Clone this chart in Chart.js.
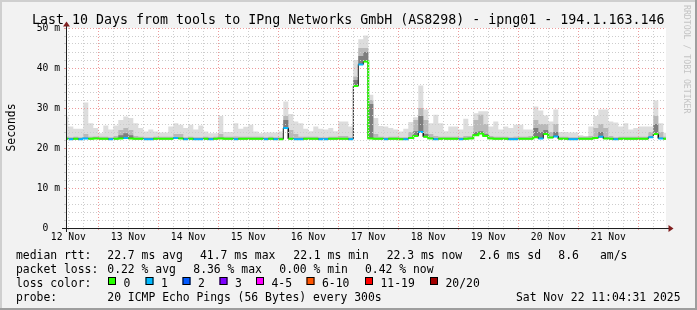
<!DOCTYPE html>
<html>
<head>
<meta charset="utf-8">
<title>SmokePing</title>
<script src="https://cdn.jsdelivr.net/npm/chart.js@4.4.1/dist/chart.umd.min.js"></script>
<style>
html,body{margin:0;padding:0;background:#f2f2f2;overflow:hidden;}
#c{display:block;}
</style>
</head>
<body>
<canvas id="c" width="697" height="310"></canvas>
<script>
// time axis in hours since 12 Nov 00:00
const START_H = 11 + 4/60 + 31/3600;   // 12 Nov 11:04:31
const SPAN_H = 240;                     // 10 days
const FIRST_H = 10;                     // start of first 2h interval
const STEP_H = 2;

// median rtt (ms) per 2h interval
const median = [
22.3,22.2,22.3,22.2,22.4,22.3,22.4,22.3,22.3,22.2,
22.3,22.4,22.5,22.4,22.3,22.3,22.2,22.2,22.3,22.3,
22.3,22.3,22.5,22.4,22.2,22.3,22.2,22.2,22.3,22.2,
22.3,22.4,22.3,22.3,22.2,22.3,22.3,22.3,22.3,22.3,
22.2,22.3,22.2,22.2,25.0,22.3,22.2,22.2,22.3,22.3,
22.3,22.2,22.2,22.3,22.3,22.3,22.3,22.2,35.5,40.9,
41.6,22.4,22.3,22.3,22.2,22.3,22.3,22.2,22.2,22.5,
23.0,24.0,22.8,22.4,22.2,22.3,22.3,22.3,22.3,22.2,
22.3,22.4,23.2,23.6,23.0,22.4,22.3,22.3,22.3,22.2,
22.2,22.3,22.3,22.3,22.7,22.4,23.5,22.6,22.9,22.3,
22.3,22.2,22.2,22.3,22.3,22.3,22.5,22.8,22.4,22.3,
22.2,22.3,22.3,22.3,22.3,22.3,22.3,22.7,23.5,22.4,
22.3];

// lost pings out of 20 per interval
const loss = [
0,1,0,1,1,0,0,0,0,1,
0,0,1,0,0,0,1,1,0,0,
0,0,1,0,1,0,1,1,0,1,
0,0,0,0,1,0,0,0,0,0,
1,0,1,0,1,0,1,1,0,0,
0,1,1,0,0,0,0,1,0,1,
0,0,0,0,1,0,0,0,1,0,
0,1,0,0,1,0,0,0,0,1,
0,0,0,0,0,0,0,0,0,1,
1,0,0,0,0,1,0,0,1,0,
0,1,1,0,0,0,0,1,0,0,
1,0,0,0,0,0,0,1,0,1,
0];

// smoke: top of the outer (light) band
const smokeLight = [
27.9,25.4,24.8,24.8,31.4,26.2,25.0,23.7,25.6,24.6,
25.6,27.0,27.9,27.5,26.2,25.0,24.1,24.6,24.1,23.9,
23.9,25.4,26.2,25.8,25.0,25.8,24.6,25.6,24.1,23.7,
23.7,28.0,24.0,24.0,26.2,24.8,25.3,25.8,24.1,23.7,
23.9,23.9,23.9,24.1,31.6,28.5,26.6,26.2,24.8,24.2,
25.4,24.8,24.6,25.0,24.2,26.6,26.6,25.4,42.0,47.2,
48.1,33.3,27.5,25.5,25.4,25.0,24.6,24.1,24.8,26.5,
27.7,35.6,29.6,26.2,28.3,26.2,24.2,25.4,25.4,24.6,
27.3,25.5,28.7,29.2,29.2,25.4,26.6,24.6,25.4,25.0,
25.8,25.8,24.6,24.6,30.4,29.4,28.1,26.6,29.6,24.0,
24.0,23.9,23.9,23.2,23.0,25.4,28.0,29.6,29.6,26.6,
26.4,25.4,26.2,24.6,25.0,25.4,25.4,25.4,31.9,26.2,
23.8];

// smoke: top of the middle band
const smokeMid = [
22.8,22.7,22.8,22.7,23.5,22.8,22.9,22.8,22.8,22.7,
23.0,24.5,25.0,24.5,23.0,22.8,22.7,22.7,22.8,22.8,
22.8,22.8,23.5,23.5,22.7,22.8,22.7,22.7,22.8,22.7,
22.8,23.5,22.8,22.8,22.9,22.8,22.8,22.8,22.8,22.8,
22.7,22.8,22.7,22.7,28.0,24.5,23.5,22.8,22.8,22.8,
22.8,22.7,22.7,22.8,22.8,23.0,23.0,22.7,37.9,45.0,
45.0,32.0,23.5,22.8,22.7,22.8,22.8,22.7,22.7,24.0,
27.0,30.0,27.0,23.5,23.0,22.8,22.8,22.8,22.8,22.7,
23.0,23.0,27.0,28.3,26.0,23.0,22.8,22.8,22.8,22.7,
22.8,22.8,22.8,23.0,27.0,26.0,26.0,24.0,26.0,22.8,
22.8,22.7,22.7,22.8,22.8,23.0,25.0,26.0,25.0,23.0,
22.7,22.8,22.8,22.8,22.8,22.8,22.8,24.0,28.0,24.0,
22.8];

// smoke: top of the dark inner band
const smokeDark = [
22.3,22.2,22.3,22.2,22.4,22.3,22.4,22.3,22.3,22.2,
22.3,23.2,23.7,23.2,22.3,22.3,22.2,22.2,22.3,22.3,
22.3,22.3,22.5,22.4,22.2,22.3,22.2,22.2,22.3,22.2,
22.3,22.4,22.3,22.3,22.2,22.3,22.3,22.3,22.3,22.3,
22.2,22.3,22.2,22.2,27.0,22.3,22.2,22.2,22.3,22.3,
22.3,22.2,22.2,22.3,22.3,22.3,22.3,22.2,37.0,43.0,
44.0,31.0,22.3,22.3,22.2,22.3,22.3,22.2,22.2,22.5,
24.2,28.0,23.5,22.4,22.2,22.3,22.3,22.3,22.3,22.2,
22.3,22.4,24.0,24.2,23.5,22.4,22.3,22.3,22.3,22.2,
22.2,22.3,22.3,22.3,25.0,24.0,24.5,22.6,24.0,22.3,
22.3,22.2,22.2,22.3,22.3,22.3,22.5,24.0,22.4,22.3,
22.2,22.3,22.3,22.3,22.3,22.3,22.3,22.7,26.0,22.4,
22.3];

const dayLabels = ['12 Nov','13 Nov','14 Nov','15 Nov','16 Nov','17 Nov','18 Nov','19 Nov','20 Nov','21 Nov'];
const yMajor = [0,10,20,30,40,50];
const yLabels = ['0  ','10 m','20 m','30 m','40 m','50 m'];

const lossBuckets = [[0,0],[1,1],[2,2],[3,3],[4,5],[6,10],[11,19],[20,20]];
const lossLabels = ['0','1','2','3','4-5','6-10','11-19','20/20'];
const lossColors = ['#26ff00','#00b8ff','#0059ff','#7e00ff','#ff00ff','#ff5500','#ff0000','#a10000'];

const titleText = 'Last 10 Days from tools to IPng Networks GmbH (AS8298) - ipng01 - 194.1.163.146';
const rttStats = ['22.7 ms avg','41.7 ms max','22.1 ms min','22.3 ms now','2.6 ms sd','8.6','am/s'];
const lossStats = ['0.22 % avg','8.36 % max','0.00 % min','0.42 % now'];
const probeText = '20 ICMP Echo Pings (56 Bytes) every 300s';
const stampText = 'Sat Nov 22 11:04:31 2025';

// ---------- build series ----------
const END_H = START_H + SPAN_H;
const xs = k => Math.max(FIRST_H + STEP_H * k, START_H);
const xe = k => Math.min(FIRST_H + STEP_H * (k + 1), END_H);
function steps(vals) {
  const p = [];
  vals.forEach((v, k) => { p.push({x: xs(k), y: v}, {x: xe(k), y: v}); });
  return p;
}
function lossSteps(lo, hi) {
  const p = [];
  let prev = false;
  median.forEach((v, k) => {
    const on = loss[k] >= lo && loss[k] <= hi;
    if (on) p.push({x: xs(k), y: v}, {x: xe(k), y: v});
    else if (prev) p.push({x: xs(k), y: null});
    prev = on;
  });
  return p;
}

const datasets = [
  {label: 'median', data: steps(median), borderColor: '#1a1a1a', borderWidth: 1, fill: false, order: 3},
  {label: 'smoke1', data: steps(smokeLight), borderWidth: 0, borderColor: 'rgba(0,0,0,0)', backgroundColor: '#dddddd', fill: {target: 0}, order: 6},
  {label: 'smoke2', data: steps(smokeMid), borderWidth: 0, borderColor: 'rgba(0,0,0,0)', backgroundColor: '#b9b9b9', fill: {target: 0}, order: 5},
  {label: 'smoke3', data: steps(smokeDark), borderWidth: 0, borderColor: 'rgba(0,0,0,0)', backgroundColor: '#7e7e7e', fill: {target: 0}, order: 4}
];
lossBuckets.forEach((b, i) => {
  const d = lossSteps(b[0], b[1]);
  if (d.length) datasets.push({label: 'loss ' + lossLabels[i], data: d, borderColor: lossColors[i], borderWidth: 2, fill: false, order: 0});
});

const MINOR = '#cdcdcd';
const MAJOR = '#ee9a9a';
const MONO = '"DejaVu Sans Mono", monospace';

const frame = {
  id: 'frame',
  beforeDraw(chart) {
    const {ctx, chartArea: a, width: W, height: H} = chart;
    ctx.save();
    ctx.fillStyle = '#f2f2f2'; ctx.fillRect(0, 0, W, H);
    ctx.fillStyle = '#cfcfcf'; ctx.fillRect(0, 0, W, 2); ctx.fillRect(0, 0, 2, H);
    ctx.fillStyle = '#9e9e9e'; ctx.fillRect(0, H - 2, W, 2); ctx.fillRect(W - 2, 0, 2, H);
    ctx.fillStyle = '#ffffff'; ctx.fillRect(a.left, a.top, a.right - a.left, a.bottom - a.top);
    ctx.restore();
  },
  afterDraw(chart) {
    const {ctx, chartArea: a} = chart;
    ctx.save();
    // axes
    ctx.fillStyle = '#1f1f1f';
    ctx.fillRect(a.left - 4, a.bottom, a.right - a.left + 8, 1);
    ctx.fillRect(a.left, a.top - 4, 1, a.bottom - a.top + 8);
    // arrows
    ctx.fillStyle = '#801f1f';
    ctx.beginPath();
    ctx.moveTo(a.right + 2.5, a.bottom - 3); ctx.lineTo(a.right + 2.5, a.bottom + 4); ctx.lineTo(a.right + 7.5, a.bottom + 0.5);
    ctx.closePath(); ctx.fill();
    ctx.beginPath();
    ctx.moveTo(a.left - 3, a.top - 1.5); ctx.lineTo(a.left + 4, a.top - 1.5); ctx.lineTo(a.left + 0.5, a.top - 6.5);
    ctx.closePath(); ctx.fill();

    // title
    ctx.fillStyle = '#000';
    ctx.textAlign = 'left'; ctx.textBaseline = 'alphabetic';
    ctx.font = '13.3px ' + MONO;
    ctx.fillText(titleText, 32, 24);

    // vertical unit label
    ctx.save();
    ctx.translate(15, 127.5); ctx.rotate(-Math.PI / 2);
    ctx.font = '11.4px ' + MONO; ctx.textAlign = 'center';
    ctx.fillText('Seconds', 0, 0);
    ctx.restore();

    // legend
    ctx.font = '11.4px ' + MONO;
    ctx.fillText('median rtt:', 16, 258.5);
    const rttX = [107.3, 200, 293.3, 386.7, 479.3, 558.3, 600];
    rttStats.forEach((s, i) => ctx.fillText(s, rttX[i], 258.5));
    ctx.fillText('packet loss:', 16, 272.5);
    const lossX = [107.3, 193.3, 279.3, 365];
    lossStats.forEach((s, i) => ctx.fillText(s, lossX[i], 272.5));
    ctx.fillText('loss color:', 16, 286.5);
    const boxX = [108, 145.5, 182.5, 219.5, 256, 306.5, 365, 430];
    lossLabels.forEach((s, i) => {
      ctx.fillStyle = lossColors[i];
      ctx.fillRect(boxX[i], 277, 8, 8);
      ctx.strokeStyle = '#000'; ctx.lineWidth = 1;
      ctx.strokeRect(boxX[i] + 0.5, 277.5, 7, 7);
      ctx.fillStyle = '#000';
      ctx.fillText(s, boxX[i] + 15.5, 286.5);
    });
    ctx.fillText('probe:', 16, 300.5);
    ctx.fillText(probeText, 107.3, 300.5);
    ctx.textAlign = 'right';
    ctx.fillText(stampText, 680.5, 300.5);

    // watermark
    ctx.save();
    ctx.translate(684, 5); ctx.rotate(Math.PI / 2);
    ctx.textAlign = 'left'; ctx.fillStyle = '#c4c4c4';
    ctx.font = '8.2px ' + MONO;
    ctx.fillText('RRDTOOL / TOBI OETIKER', 0, 0);
    ctx.restore();
    ctx.restore();
  }
};

new Chart(document.getElementById('c'), {
  type: 'line',
  data: {datasets},
  options: {
    responsive: false,
    animation: false,
    devicePixelRatio: 1,
    events: [],
    layout: {padding: {left: 0, top: 28, right: 31, bottom: 0}},
    plugins: {legend: {display: false}, tooltip: {enabled: false}, title: {display: false}},
    elements: {point: {radius: 0}, line: {tension: 0, borderJoinStyle: 'miter', borderCapStyle: 'butt'}},
    scales: {
      x: {
        type: 'linear', min: START_H, max: END_H,
        afterBuildTicks(s) {
          const t = [];
          for (let h = 12; h < END_H; h += 6) t.push({value: h});
          s.ticks = t;
        },
        afterFit(s) { s.height = 82; },
        grid: {z: 1, color: c => (c.tick && c.tick.value % 24 === 0) ? MAJOR : MINOR, lineWidth: 1, drawTicks: true, tickLength: 2},
        border: {display: false, dash: [1, 2]},
        ticks: {
          autoSkip: false, maxRotation: 0, minRotation: 0, padding: 2, color: '#000',
          font: {family: MONO, size: 9.7},
          callback: v => (v % 24 === 12) ? dayLabels[(v - 12) / 24] : ''
        }
      },
      y: {
        type: 'linear', min: 0, max: 50,
        afterBuildTicks(s) {
          const t = [];
          for (let v = 0; v <= 50; v += 2) t.push({value: v});
          s.ticks = t;
        },
        afterFit(s) { s.width = 66; },
        grid: {z: 1, color: c => (c.tick && c.tick.value % 10 === 0) ? MAJOR : MINOR, lineWidth: 1, drawTicks: true, tickLength: 2},
        border: {display: false, dash: [1, 2]},
        ticks: {
          autoSkip: false, padding: 4, color: '#000',
          font: {family: MONO, size: 9.7},
          callback: v => { const i = yMajor.indexOf(v); return i >= 0 ? yLabels[i] : ''; }
        }
      }
    }
  },
  plugins: [frame]
});
</script>
</body>
</html>
